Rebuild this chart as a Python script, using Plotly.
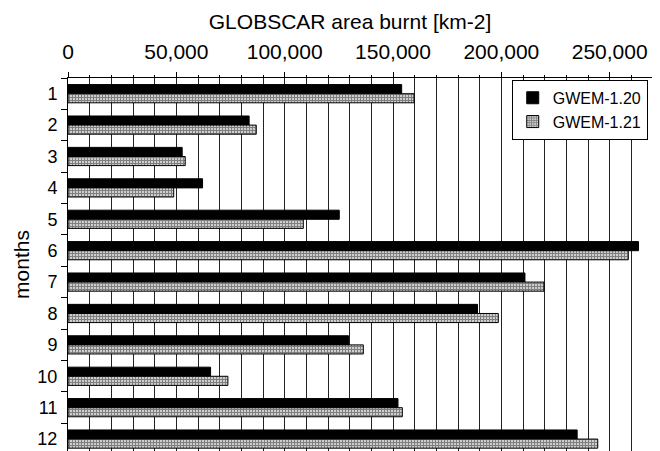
import plotly.graph_objects as go

months = ["1", "2", "3", "4", "5", "6", "7", "8", "9", "10", "11", "12"]
gwem_120 = [154000, 83600, 52700, 62100, 125200, 263300, 210900, 189000, 129500, 65800, 152300, 235000]
gwem_121 = [159700, 86900, 54100, 48800, 108600, 258600, 219700, 198600, 136300, 73800, 154300, 244500]
x_tickvals = [0, 50000, 100000, 150000, 200000, 250000]

FONT = "Liberation Sans, Arial, sans-serif"
# the page body has an 8px default margin; size the figure so it fills the window
W, H = 652, 443

fig = go.Figure()
fig.add_trace(go.Bar(
    y=months, x=gwem_120, orientation="h", name="GWEM-1.20",
    marker=dict(color="black", line=dict(color="black", width=1)),
))
fig.add_trace(go.Bar(
    y=months, x=gwem_121, orientation="h", name="GWEM-1.21",
    marker=dict(color="white", line=dict(color="black", width=1),
                pattern=dict(shape="+", fgcolor="black", bgcolor="white",
                             size=3, solidity=0.7)),
))

fig.update_layout(
    width=W, height=H,
    margin=dict(l=60, r=7, t=70, b=0),
    paper_bgcolor="white", plot_bgcolor="white",
    barmode="group", bargap=0.42, bargroupgap=0.0,
    font=dict(family=FONT, size=21, color="black"),
    title=dict(text="GLOBSCAR area burnt [km-2]", x=342 / W, xanchor="center",
               xref="container",
               y=1 - 13.5 / H, yanchor="middle", yref="container",
               font=dict(size=21, family=FONT)),
    showlegend=True,
    legend=dict(x=0.991, y=0.995, xanchor="right", yanchor="top",
                bgcolor="white", bordercolor="black", borderwidth=1,
                font=dict(size=16, family=FONT), tracegroupgap=0,
                itemwidth=30),
)

fig.update_xaxes(
    side="top", range=[0, 270000], tickvals=x_tickvals, tickformat=",",
    ticks="outside", ticklen=5, tickcolor="black", ticklabelstandoff=5,
    showgrid=True, gridcolor="#222", gridwidth=1,
    minor=dict(dtick=10000, showgrid=True, gridcolor="#222", gridwidth=1,
               ticks="outside", ticklen=2, tickcolor="black"),
    showline=True, linecolor="black", linewidth=1, mirror=True,
    tickfont=dict(size=21, family=FONT), zeroline=False, automargin=False,
)
fig.update_yaxes(
    type="category", range=[11.38, -0.5],
    ticks="outside", tickson="boundaries", ticklen=6, tickcolor="black",
    ticklabelstandoff=6,
    showgrid=False, showline=True, linecolor="black", linewidth=1, mirror=True,
    title=dict(text="months", font=dict(size=21, family=FONT), standoff=2),
    tickfont=dict(size=18, family=FONT), automargin=False,
)

fig.write_html("out.html")
